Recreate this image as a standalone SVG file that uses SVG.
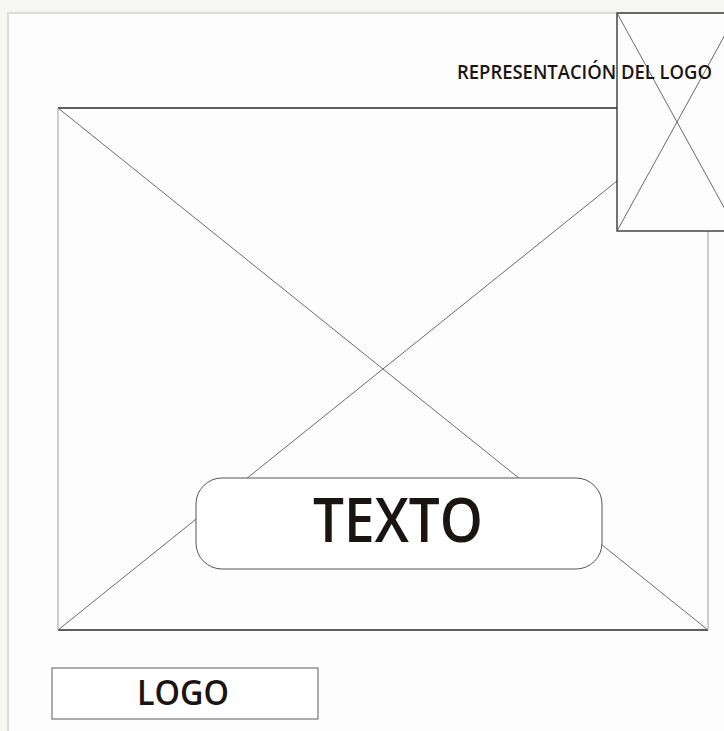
<svg xmlns="http://www.w3.org/2000/svg" width="724" height="731" viewBox="0 0 724 731">
  <style>
    .dark { stroke: #2a2a2a; stroke-width: 1.3; fill: none; }
    .light { stroke: #b5b5b5; stroke-width: 1.3; fill: none; }
    .diag { stroke: #5a5a5a; stroke-width: 0.9; fill: none; }
    .lbl { font-family: "Open Sans", "Liberation Sans", sans-serif; fill: #1a1412; font-weight: 600; }
  </style>
  <rect x="0" y="0" width="724" height="731" fill="#f6f6f2"/>
  <rect x="8" y="13" width="716" height="718" fill="#fdfdfd"/>
  <path d="M8 731 V13 H724" fill="none" stroke="#dcdcdc" stroke-width="2"/>

  <g id="imagen-principal">
    <line class="diag" x1="58" y1="108" x2="708" y2="630"/>
    <line class="diag" x1="58" y1="630" x2="617" y2="181"/>
    <line class="dark" x1="58" y1="108" x2="617" y2="108"/>
    <line class="dark" x1="58" y1="630" x2="708" y2="630"/>
    <line class="light" x1="58" y1="108" x2="58" y2="630"/>
    <line class="light" x1="708" y1="231" x2="708" y2="630"/>
  </g>

  <g id="representacion-logo">
    <rect x="617" y="13" width="120" height="218" fill="none" class="dark"/>
    <line class="diag" x1="617" y1="13" x2="737" y2="231"/>
    <line class="diag" x1="617" y1="231" x2="737" y2="13"/>
    <text class="lbl" x="457" y="79" font-size="20" font-weight="500" textLength="255" lengthAdjust="spacingAndGlyphs">REPRESENTACIÓN DEL LOGO</text>
  </g>

  <g id="texto">
    <rect x="196" y="478" width="406" height="91" rx="26" ry="26" fill="#ffffff" stroke="#555" stroke-width="1"/>
    <text class="lbl" x="398" y="542" font-size="62" text-anchor="middle" textLength="170" lengthAdjust="spacingAndGlyphs">TEXTO</text>
  </g>

  <g id="logo">
    <rect x="52" y="668" width="266" height="51" fill="#ffffff" stroke="#777" stroke-width="1.2"/>
    <text class="lbl" x="183" y="705" font-size="35" text-anchor="middle" textLength="92" lengthAdjust="spacingAndGlyphs">LOGO</text>
  </g>

  <g id="connectors"></g>
</svg>
